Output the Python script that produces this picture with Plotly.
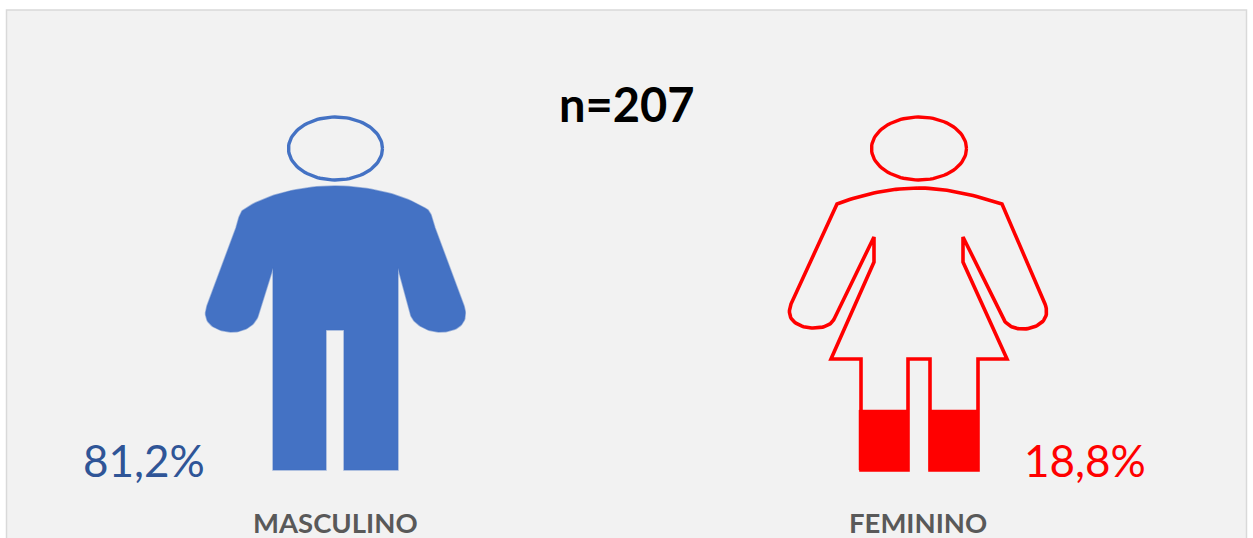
import numpy as np
import plotly.graph_objects as go

# --- data ---
categories = ["MASCULINO", "FEMININO"]
percent_labels = ["81,2%", "18,8%"]
sample_label = "n=207"
values = [81.2, 18.8]
colors = ["#4472C4", "#FF0000"]
value_colors = ["#2F5597", "#FF0000"]

# pictogram geometry, in canvas pixels (glyph outlines, not data)
W, H = 1253, 538
FOOT = 470
FEMALE_FILL_TOP = 410


def bez(p0, p1, p2, p3, n=24):
    t = np.linspace(0, 1, n)[:, None]
    p0, p1, p2, p3 = map(np.array, (p0, p1, p2, p3))
    return (1-t)**3*p0 + 3*(1-t)**2*t*p1 + 3*(1-t)*t**2*p2 + t**3*p3


def path(*parts):
    out = []
    for part in parts:
        if len(part) == 2:
            out.append(np.array([part], float))
        else:
            out.append(bez(*part))
    a = np.vstack(out)
    return a[:, 0].tolist(), a[:, 1].tolist()


def ellipse(cx, cy, rx, ry, n=100):
    t = np.linspace(0, 2*np.pi, n)
    return (cx + rx*np.cos(t)).tolist(), (cy + ry*np.sin(t)).tolist()


male_x, male_y = path(
    ((335, 186), (300, 186), (265, 195), (243, 210)),
    ((243, 210), (240, 213), (238, 220), (236, 228)),
    (207, 306),
    ((207, 306), (200, 325), (220, 332), (232, 332)),
    ((232, 332), (245, 332), (255, 325), (258, 316)),
    (273, 268), (273, FOOT), (326, FOOT), (326, 330), (344, 330), (344, FOOT),
    (398, FOOT), (398, 268), (411, 316),
    ((411, 316), (415, 325), (428, 332), (440, 332)),
    ((440, 332), (455, 332), (470, 325), (464, 306)),
    (435, 228),
    ((435, 228), (433, 220), (431, 213), (428, 210)),
    ((428, 210), (405, 195), (370, 186), (335, 186)),
)
fem_x, fem_y = path(
    ((918, 188), (890, 188), (860, 195), (837, 204)),
    (791, 304),
    ((791, 304), (784, 322), (802, 328), (813, 328)),
    ((813, 328), (825, 328), (832, 325), (835, 317)),
    (874, 237), (874, 262), (831, 359), (861, 359), (861, 470), (908, 470),
    (908, 359), (930, 359), (930, 470), (978, 470), (978, 359), (1007, 359),
    (963, 262), (963, 237), (1002, 317),
    ((1002, 317), (1006, 325), (1013, 329), (1023, 329)),
    ((1023, 329), (1034, 329), (1052, 322), (1045, 304)),
    (1002, 204),
    ((1002, 204), (975, 195), (945, 188), (918, 188)),
)
fem_fill_x = [859, 908, 908, 859, 859, None, 929, 978, 978, 929, 929]
fem_fill_y = [FEMALE_FILL_TOP, FEMALE_FILL_TOP, FOOT, FOOT, FEMALE_FILL_TOP, None,
              FEMALE_FILL_TOP, FEMALE_FILL_TOP, FOOT, FOOT, FEMALE_FILL_TOP]

fig = go.Figure()

hx, hy = ellipse(335.5, 148.5, 47, 31.5)
fig.add_trace(go.Scatter(x=hx, y=hy, mode="lines", line=dict(color=colors[0], width=3.4),
                         hoverinfo="skip", showlegend=False))
fig.add_trace(go.Scatter(x=male_x, y=male_y, mode="lines", fill="toself",
                         fillcolor=colors[0], line=dict(color="rgba(68,114,196,0.5)", width=1.5),
                         name=categories[0], text=f"{categories[0]}: {values[0]}%",
                         hoverinfo="text", showlegend=False))
hx, hy = ellipse(919, 148.5, 47.5, 31.5)
fig.add_trace(go.Scatter(x=hx, y=hy, mode="lines", line=dict(color=colors[1], width=3.4),
                         hoverinfo="skip", showlegend=False))
fig.add_trace(go.Scatter(x=fem_fill_x, y=fem_fill_y, mode="lines", fill="toself",
                         fillcolor=colors[1], line=dict(color=colors[1], width=0.5),
                         name=categories[1], text=f"{categories[1]}: {values[1]}%",
                         hoverinfo="text", showlegend=False))
fig.add_trace(go.Scatter(x=fem_x, y=fem_y, mode="lines",
                         line=dict(color=colors[1], width=3.6),
                         hoverinfo="skip", showlegend=False))


def note(x, y, text, size, color, bold=False):
    fig.add_annotation(x=x, y=y, xref="x", yref="y", text=f"<b>{text}</b>" if bold else text,
                       showarrow=False, xanchor="center", yanchor="middle",
                       font=dict(family="Lato, Carlito, sans-serif", size=size, color=color))


note(627, 104, sample_label, 47, "#000000", bold=True)
note(144, 460, percent_labels[0], 44, value_colors[0])
note(1085, 460, percent_labels[1], 44, value_colors[1])
note(335, 522, categories[0], 27.5, "#595959", bold=True)
note(918, 522, categories[1], 27.5, "#595959", bold=True)

fig.update_layout(
    width=W, height=H, margin=dict(l=0, r=0, t=0, b=0),
    paper_bgcolor="#FFFFFF", plot_bgcolor="rgba(0,0,0,0)",
    xaxis=dict(range=[0, W], visible=False, fixedrange=True),
    yaxis=dict(range=[H, 0], visible=False, fixedrange=True),
    shapes=[dict(type="rect", xref="x", yref="y", x0=6.5, x1=1246.5, y0=10, y1=H + 10,
                 fillcolor="#F2F2F2", line=dict(color="#D9D9D9", width=1.5), layer="below")],
)

fig.write_html("out.html", config={"displayModeBar": False},
               post_script="document.body.style.margin='0';document.body.style.overflow='hidden';")
